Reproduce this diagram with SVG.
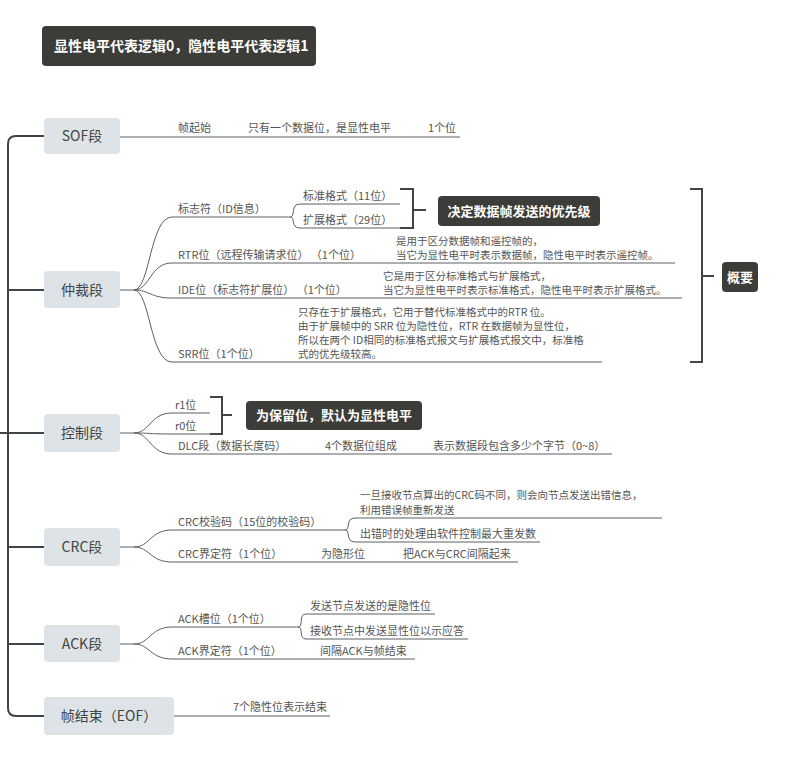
<svg xmlns="http://www.w3.org/2000/svg" width="789" height="761" viewBox="0 0 789 761">
<style>
text{font-family:"Noto Sans CJK SC","Liberation Sans",sans-serif;fill:#555;font-size:11px}
.s{font-size:10.5px}
.m{font-size:14px;fill:#444}
.d{fill:#3c3c38}
.dt{fill:#fff;font-weight:bold;font-size:13px}
.n{fill:#dde3e6}
.sp{fill:none;stroke:#3f4549;stroke-width:2}
.l{fill:none;stroke:#5a5f63;stroke-width:1}
.b{fill:none;stroke:#3f4549;stroke-width:2}
</style>
<rect width="789" height="761" fill="#fff"/>
<g id="title"><rect class="d" x="42" y="26" width="274" height="40" rx="4"/><text class="dt" x="54" y="51" style="font-size:14px">显性电平代表逻辑0，隐性电平代表逻辑1</text></g>
<g id="connectors">
<path class="sp" d="M44 136H16Q8 136 8 144V708Q8 716 16 716H44M8 290H44M0 433H44M8 547H44M8 644H44"/>
<path class="l" d="M120 137H460"/>
<path class="l" d="M120 290H134M134 290C150 290 150 217 172 217H283M134 290C150 290 150 263 172 263H675M134 290C150 290 150 298 172 298H682M134 290C150 290 150 362 172 362H602"/>
<path class="l" d="M283 217H290C296 217 290 204 300 204H400M290 217C296 217 290 228 300 228H400"/>
<path class="b" d="M400 189H413V228H400M413 210H426M690 189H702V362H690M702 276H714M210 397H222V434H210M222 415H232"/>
<path class="l" d="M120 433H134M134 433C150 433 150 413 172 413H210M134 433C150 433 150 434 172 434H210M134 433C150 433 150 454 172 454H612"/>
<path class="l" d="M120 547H134M134 547C150 547 150 530 172 530H338M134 547C150 547 150 562 172 562H518M338 530H345C351 530 345 518 355 518H662M345 530C351 530 345 542 355 542H540"/>
<path class="l" d="M120 644H134M134 644C150 644 150 627 172 627H292M134 644C150 644 150 659 172 659H415M292 627H298C304 627 298 614 306 614H435M298 627C304 627 298 639 306 639H468"/>
<path class="l" d="M174 716H330"/>
</g>
<g id="sof"><rect class="n" x="44" y="118" width="76" height="36" rx="4"/><text class="m" x="82" y="141" text-anchor="middle">SOF段</text>
<text x="178" y="132">帧起始</text><text x="248" y="132">只有一个数据位，是显性电平</text><text x="428" y="132">1个位</text></g>
<g id="arb"><rect class="n" x="44" y="271" width="76" height="37" rx="4"/><text class="m" x="82" y="295" text-anchor="middle">仲裁段</text>
<text x="178" y="213">标志符（ID信息）</text><text x="303" y="200">标准格式（11位）</text><text x="303" y="224">扩展格式（29位）</text>
<text x="178" y="259">RTR位（远程传输请求位）  （1个位）</text>
<text class="s" x="396" y="245">是用于区分数据帧和遥控帧的，</text><text class="s" x="396" y="259">当它为显性电平时表示数据帧，隐性电平时表示遥控帧。</text>
<text x="178" y="294">IDE位（标志符扩展位）  （1个位）</text>
<text class="s" x="383" y="280">它是用于区分标准格式与扩展格式，</text><text class="s" x="383" y="294">当它为显性电平时表示标准格式，隐性电平时表示扩展格式。</text>
<text x="178" y="358">SRR位（1个位）</text>
<text class="s" x="298" y="316">只存在于扩展格式，它用于替代标准格式中的RTR 位。</text><text class="s" x="298" y="330">由于扩展帧中的 SRR 位为隐性位，RTR 在数据帧为显性位，</text><text class="s" x="298" y="344">所以在两个 ID相同的标准格式报文与扩展格式报文中，标准格</text><text class="s" x="298" y="358">式的优先级较高。</text></g>
<g id="prio"><rect class="d" x="438" y="196" width="162" height="30" rx="4"/><text class="dt" x="519" y="216" text-anchor="middle">决定数据帧发送的优先级</text></g>
<g id="summary"><rect class="d" x="722" y="262" width="36" height="30" rx="4"/><text class="dt" x="740" y="282" text-anchor="middle">概要</text></g>
<g id="ctrl"><rect class="n" x="44" y="414" width="76" height="38" rx="4"/><text class="m" x="82" y="438" text-anchor="middle">控制段</text>
<text x="175" y="409">r1位</text><text x="175" y="430">r0位</text><text x="178" y="450">DLC段（数据长度码）</text><text x="325" y="450">4个数据位组成</text><text x="433" y="450">表示数据段包含多少个字节（0~8）</text></g>
<g id="resv"><rect class="d" x="246" y="401" width="176" height="29" rx="4"/><text class="dt" x="334" y="420" text-anchor="middle">为保留位，默认为显性电平</text></g>
<g id="crc"><rect class="n" x="44" y="528" width="76" height="38" rx="4"/><text class="m" x="82" y="552" text-anchor="middle">CRC段</text>
<text x="178" y="526">CRC校验码（15位的校验码）</text><text class="s" x="360" y="499">一旦接收节点算出的CRC码不同，则会向节点发送出错信息，</text><text class="s" x="360" y="514">利用错误帧重新发送</text><text x="360" y="538">出错时的处理由软件控制最大重发数</text>
<text x="178" y="558">CRC界定符（1个位）</text><text x="321" y="558">为隐形位</text><text x="403" y="558">把ACK与CRC间隔起来</text></g>
<g id="ack"><rect class="n" x="44" y="625" width="76" height="37" rx="4"/><text class="m" x="82" y="649" text-anchor="middle">ACK段</text>
<text x="178" y="623">ACK槽位（1个位）</text><text x="310" y="610">发送节点发送的是隐性位</text><text x="310" y="635">接收节点中发送显性位以示应答</text>
<text x="178" y="655">ACK界定符（1个位）</text><text x="320" y="655">间隔ACK与帧结束</text></g>
<g id="eof"><rect class="n" x="44" y="697" width="130" height="38" rx="4"/><text class="m" x="109" y="721" text-anchor="middle">帧结束（EOF）</text>
<text x="233" y="711">7个隐性位表示结束</text></g>
</svg>
